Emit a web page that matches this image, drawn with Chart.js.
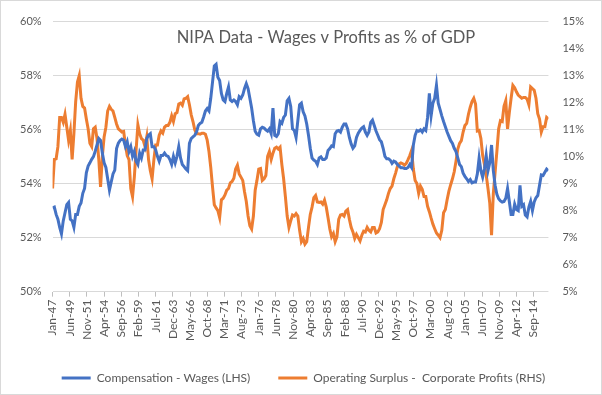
<!DOCTYPE html>
<html>
<head>
<meta charset="utf-8">
<script src="https://cdn.jsdelivr.net/npm/chart.js@4.4.1/dist/chart.umd.min.js"></script>
<style>
    html, body { margin: 0; padding: 0; background: #fff; }
    #wrap {
        position: relative;
        width: 602px;
        height: 395px;
        box-sizing: border-box;
        border: 1px solid #d9d9d9;
    }
</style>
</head>
<body>
<div id="wrap"><canvas id="chart"></canvas></div>
<script>
// Quarterly NIPA shares, Q1 1947 onwards
const seriesNames = ['Compensation - Wages (LHS)', 'Operating Surplus -  Corporate Profits (RHS)'];

const wages = [
    53.10, 53.13, 52.86, 52.68, 52.38, 52.14, 52.62, 52.92, 53.22, 53.30,
    52.68, 52.62, 52.38, 52.86, 52.86, 53.16, 53.28, 53.64, 53.82, 54.40,
    54.65, 54.77, 54.90, 55.00, 55.20, 55.43, 55.67, 55.60, 55.13, 54.77,
    54.60, 54.18, 53.76, 54.06, 54.36, 54.50, 55.30, 55.50, 55.60, 55.65,
    55.61, 55.37, 55.55, 55.19, 55.37, 55.01, 55.19, 54.83, 54.71, 55.13,
    54.95, 55.25, 55.25, 55.67, 55.79, 55.85, 55.37, 55.37, 55.25, 55.01,
    54.83, 55.04, 55.04, 55.13, 55.04, 55.01, 54.89, 54.71, 55.01, 54.77,
    55.01, 55.37, 54.95, 54.71, 54.63, 54.54, 54.48, 55.49, 55.67, 55.73,
    55.79, 55.91, 56.15, 56.23, 56.27, 56.47, 56.69, 56.78, 56.69, 57.16,
    57.76, 58.36, 58.42, 57.94, 57.82, 57.34, 57.10, 57.04, 57.34, 57.58,
    57.10, 57.04, 57.10, 57.04, 56.92, 57.22, 57.16, 57.28, 57.52, 57.70,
    57.52, 57.16, 56.80, 56.33, 55.94, 55.83, 55.79, 56.03, 56.09, 56.06,
    55.99, 55.94, 56.03, 55.85, 56.80, 55.79, 55.75, 55.85, 56.30, 56.23,
    56.45, 56.54, 57.07, 57.16, 56.86, 56.03, 55.97, 55.71, 56.33, 56.92,
    56.98, 56.66, 56.51, 56.21, 55.79, 55.31, 54.95, 54.87, 54.83, 54.71,
    54.95, 54.99, 54.89, 54.89, 54.95, 55.23, 55.30, 55.40, 55.37, 55.85,
    55.95, 55.97, 55.91, 56.09, 56.21, 56.21, 56.03, 55.71, 55.47, 55.31,
    55.40, 55.71, 55.87, 55.97, 56.06, 56.11, 55.91, 55.79, 55.91, 56.27,
    56.35, 56.15, 55.95, 55.79, 55.63, 55.55, 55.31, 55.01, 54.92, 54.92,
    54.87, 54.75, 54.83, 54.80, 54.71, 54.65, 54.59, 54.59, 54.56, 54.56,
    54.60, 54.71, 54.60, 55.43, 55.79, 55.97, 55.94, 55.99, 55.91, 56.03,
    55.97, 56.45, 57.34, 56.51, 56.98, 57.16, 57.64, 56.98, 56.75, 56.51,
    56.30, 56.11, 55.91, 55.75, 55.59, 55.49, 55.31, 55.19, 54.95, 54.71,
    54.63, 54.39, 54.27, 54.18, 54.08, 54.15, 54.03, 54.06, 54.06, 54.36,
    54.95, 54.48, 54.24, 54.54, 55.04, 54.48, 54.77, 55.43, 54.48, 53.94,
    53.60, 53.44, 53.36, 53.32, 53.34, 53.46, 53.82, 53.34, 52.86, 52.86,
    53.24, 53.04, 53.00, 53.94, 53.16, 53.22, 52.84, 52.77, 53.13, 53.34,
    53.00, 53.32, 53.48, 53.56, 53.94, 54.32, 54.30, 54.42, 54.54, 54.48
];

const profits = [
    8.82, 9.90, 9.92, 10.37, 11.45, 11.45, 11.27, 11.57, 11.09, 10.61,
    10.97, 9.90, 10.85, 12.04, 12.76, 13.00, 12.16, 11.86, 11.80, 11.39,
    11.03, 10.49, 10.37, 11.03, 11.09, 10.67, 9.90, 8.88, 10.01, 10.73,
    11.09, 11.69, 11.86, 11.75, 11.69, 11.45, 11.21, 11.03, 10.97, 10.91,
    10.93, 10.43, 10.04, 9.89, 8.82, 8.52, 9.24, 10.25, 11.18, 10.85,
    10.67, 10.61, 10.37, 10.73, 9.89, 9.48, 9.18, 9.89, 10.43, 10.43,
    10.79, 10.95, 10.87, 11.09, 11.15, 11.15, 11.27, 11.51, 11.30, 11.59,
    11.63, 11.95, 11.98, 11.90, 12.14, 12.16, 12.22, 11.92, 11.55, 11.30,
    10.99, 10.85, 10.85, 10.83, 10.87, 10.87, 10.83, 10.61, 10.19, 9.60,
    8.88, 8.22, 8.10, 8.00, 7.74, 8.40, 8.46, 8.58, 8.76, 8.82,
    9.03, 9.08, 9.20, 9.54, 9.68, 9.36, 9.24, 9.12, 8.70, 8.34,
    7.80, 7.44, 7.32, 7.80, 8.76, 9.12, 9.54, 9.56, 9.12, 9.18,
    9.30, 10.01, 10.19, 9.89, 10.13, 10.31, 10.35, 10.28, 10.35, 9.71,
    9.18, 8.52, 7.80, 7.38, 7.62, 7.84, 7.80, 7.89, 7.80, 7.27,
    6.85, 6.97, 6.76, 6.85, 7.38, 7.86, 8.13, 8.48, 8.56, 8.32,
    8.30, 8.32, 8.24, 8.39, 8.13, 7.74, 7.32, 7.03, 7.15, 6.85,
    7.03, 7.68, 7.84, 7.86, 7.80, 7.98, 8.04, 7.68, 7.38, 7.21,
    6.97, 7.12, 7.00, 6.88, 7.09, 7.24, 7.21, 7.38, 7.27, 7.21,
    7.38, 7.38, 7.17, 7.21, 7.33, 7.56, 8.04, 8.22, 8.40, 8.64,
    8.82, 8.91, 9.18, 9.39, 9.63, 9.73, 9.77, 9.74, 9.68, 9.75,
    9.89, 10.04, 10.23, 9.54, 9.12, 9.00, 8.64, 8.91, 8.79, 8.52,
    8.52, 8.16, 7.96, 7.72, 7.50, 7.33, 7.17, 7.09, 7.00, 7.27,
    7.92, 8.04, 8.40, 8.72, 8.96, 9.18, 9.44, 9.83, 10.28, 10.49,
    10.59, 10.91, 11.15, 11.23, 11.57, 11.83, 12.04, 12.16, 11.95, 10.95,
    10.97, 10.67, 10.04, 9.71, 9.32, 8.82, 8.28, 7.09, 8.64, 9.42,
    10.19, 11.03, 11.33, 11.30, 11.86, 12.07, 11.03, 11.63, 12.16, 12.64,
    12.55, 12.40, 12.28, 12.22, 12.16, 12.19, 12.19, 12.13, 11.92, 12.58,
    12.52, 12.46, 12.16, 11.59, 11.39, 10.91, 11.11, 11.11, 11.45, 11.39
];

// x axis is in months since Jan-47; one label every 29 months
const monthsPerPoint = 3;
const monthsPerTick = 29;
const tickLabels = [
    'Jan-47', 'Jun-49', 'Nov-51', 'Apr-54', 'Sep-56', 'Feb-59', 'Jul-61', 'Dec-63',
    'May-66', 'Oct-68', 'Mar-71', 'Aug-73', 'Jan-76', 'Jun-78', 'Nov-80', 'Apr-83',
    'Sep-85', 'Feb-88', 'Jul-90', 'Dec-92', 'May-95', 'Oct-97', 'Mar-00', 'Aug-02',
    'Jan-05', 'Jun-07', 'Nov-09', 'Apr-12', 'Sep-14'
];
const leftTicks = { min: 50, max: 60, step: 2 };
const rightTicks = { min: 5, max: 15, step: 1 };
const chartTitle = 'NIPA Data - Wages v Profits as % of GDP';

const textColor = '#595959';
const gridColor = '#d9d9d9';
const fontFamily = 'Lato, "Open Sans", sans-serif';

const toPoints = arr => arr.map((v, i) => ({ x: i * monthsPerPoint, y: v }));

// Excel puts the title inside the plot area, so draw it by hand
const titlePlugin = {
    id: 'overlayTitle',
    afterDraw(chart) {
        const c = chart.ctx;
        c.save();
        c.font = `16.5px ${fontFamily}`;
        c.fillStyle = textColor;
        c.textAlign = 'center';
        c.textBaseline = 'middle';
        c.fillText(chartTitle, 325, 37);
        c.restore();
    }
};

new Chart(document.getElementById('chart'), {
    type: 'line',
    data: {
        datasets: [{
            label: seriesNames[0],
            data: toPoints(wages),
            yAxisID: 'yLeft',
            borderColor: '#4472C4',
            backgroundColor: '#4472C4',
            borderWidth: 3,
            pointRadius: 0,
            tension: 0
        }, {
            label: seriesNames[1],
            data: toPoints(profits),
            yAxisID: 'yRight',
            borderColor: '#ED7D31',
            backgroundColor: '#ED7D31',
            borderWidth: 3,
            pointRadius: 0,
            tension: 0
        }]
    },
    options: {
        responsive: true,
        maintainAspectRatio: false,
        animation: false,
        layout: { padding: { left: 8, right: 3, top: 16, bottom: 0 } },
        plugins: {
            tooltip: { enabled: false },
            legend: {
                position: 'bottom',
                labels: {
                    boxWidth: 29,
                    boxHeight: 3,
                    padding: 28,
                    color: textColor,
                    font: { family: fontFamily, size: 12 },
                    generateLabels: chart => chart.data.datasets.map((ds, i) => ({
                        text: ds.label,
                        fillStyle: ds.borderColor,
                        strokeStyle: ds.borderColor,
                        lineWidth: 0,
                        hidden: false,
                        datasetIndex: i,
                        fontColor: textColor
                    }))
                }
            }
        },
        scales: {
            x: {
                type: 'linear',
                min: 0,
                max: (wages.length - 1) * monthsPerPoint,
                afterBuildTicks: scale => {
                    scale.ticks = tickLabels.map((_, i) => ({ value: i * monthsPerTick }));
                },
                ticks: {
                    autoSkip: false,
                    minRotation: 90,
                    maxRotation: 90,
                    padding: 3,
                    color: textColor,
                    font: { family: fontFamily, size: 12 },
                    callback: (value, index) => tickLabels[index]
                },
                grid: {
                    drawOnChartArea: false,
                    drawTicks: true,
                    tickLength: 5,
                    tickColor: '#bfbfbf'
                },
                border: { display: false }
            },
            yLeft: {
                position: 'left',
                min: leftTicks.min,
                max: leftTicks.max,
                ticks: {
                    stepSize: leftTicks.step,
                    padding: 11,
                    color: textColor,
                    font: { family: fontFamily, size: 11 },
                    callback: v => v + '%'
                },
                grid: { color: gridColor, drawTicks: false },
                border: { display: false }
            },
            yRight: {
                position: 'right',
                min: rightTicks.min,
                max: rightTicks.max,
                ticks: {
                    stepSize: rightTicks.step,
                    padding: 14,
                    color: textColor,
                    font: { family: fontFamily, size: 11 },
                    callback: v => v + '%'
                },
                grid: { display: false, drawTicks: false },
                border: { display: false }
            }
        }
    },
    plugins: [titlePlugin]
});
</script>
</body>
</html>
